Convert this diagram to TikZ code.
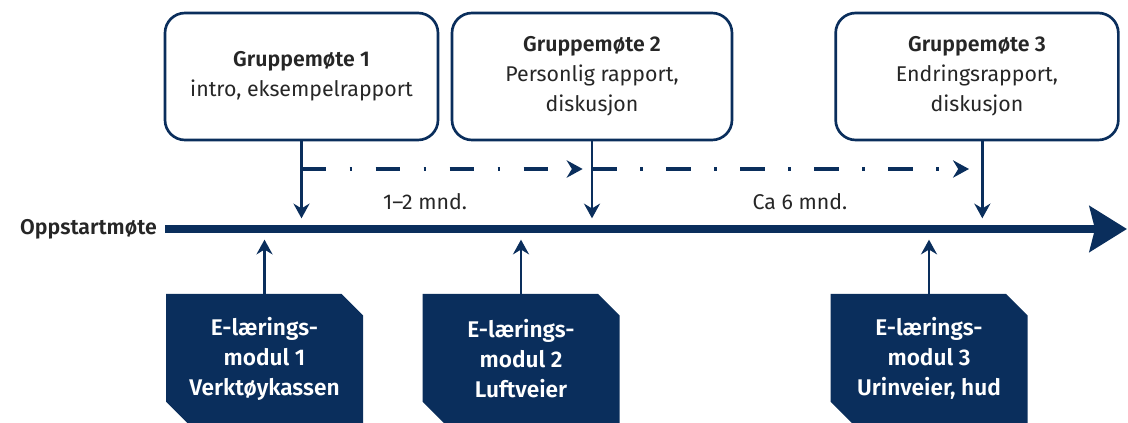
\documentclass[tikz,border=0pt]{standalone}
\usepackage{fontspec}
\setmainfont{Fira Sans}[BoldFont={Fira Sans SemiBold}]
\usetikzlibrary{arrows.meta,shapes.misc}
\definecolor{navy}{RGB}{10,46,92}
\tikzset{
  meeting/.style={draw=navy, line width=2pt, rounded corners=15pt, fill=white,
    minimum height=95.25pt, align=center, text=black!85,
    font=\fontsize{16}{22.5}\selectfont},
  module/.style={chamfered rectangle, chamfered rectangle corners={north east,south west},
    chamfered rectangle xsep=8pt, chamfered rectangle ysep=8pt, fill=navy, text=white,
    minimum width=147.75pt, minimum height=96.75pt, inner sep=0pt, align=center,
    font=\bfseries\fontsize{17}{22.5}\selectfont},
  pointer/.style={navy, line width=2pt, -{Stealth[length=11pt,width=12pt]}, shorten >=8pt},
  period/.style={navy, line width=3pt, dash pattern=on 18.5pt off 17.5pt on 2pt off 17.5pt,
    -{Stealth[length=12pt,width=13pt]}},
  timeline/.style={navy, line width=6pt, -{Stealth[length=28pt,width=34pt,inset=4pt]}},
  plain text/.style={text=black!85, font=\fontsize{16}{19}\selectfont}
}

\begin{document}
\begin{tikzpicture}[x=0.75pt,y=-0.75pt]
			%%%%% START %%%%%
			\useasboundingbox (0,0) rectangle (1128,423);
			
			\coordinate (tl) at (165,229);
			\coordinate (tlend) at (1127,229);
			\coordinate (dl) at (0,169);
			
			% gruppemoter
			\node[meeting, minimum width=204.75pt] (gm1) at (301.5,76.5) {\textbf{Gruppemøte 1}\\intro, eksempelrapport};
			\node[meeting, minimum width=210pt] (gm2) at (592,76.5) {\textbf{Gruppemøte 2}\\Personlig rapport,\\diskusjon};
			\node[meeting, minimum width=212pt] (gm3) at (977,76.5) {\textbf{Gruppemøte 3}\\Endringsrapport,\\diskusjon};
			
			% e-laering
			\node[module] (em1) at (264.5,358.5) {E-lærings-\\modul 1\\Verktøykassen};
			\node[module] (em2) at (521,358.5) {E-lærings-\\modul 2\\Luftveier};
			\node[module] (em3) at (929,358.5) {E-lærings-\\modul 3\\Urinveier, hud};
			
			\node[plain text, font=\bfseries\fontsize{16}{19}\selectfont, anchor=east, inner sep=0pt] (start) at (157,229) {Oppstartmøte};
			\draw[timeline] (tl) -- (tlend);
			
			\draw[pointer] (gm1.south) -- (gm1.south |- tl);
			\draw[pointer] (gm2.south) -- (gm2.south |- tl);
			\draw[pointer] ([xshift=4pt]gm3.south) -- ([xshift=4pt]gm3.south |- tl);
			
			\draw[pointer] (em1.north) -- (em1.north |- tl);
			\draw[pointer] (em2.north) -- (em2.north |- tl);
			\draw[pointer] (em3.north) -- (em3.north |- tl);
			
			\draw[period, shorten >=7pt] (gm1.south |- dl) -- (gm2.south |- dl);
			\draw[period, shorten >=10pt] (gm2.south |- dl) -- ([xshift=4pt]gm3.south |- dl);
			
			\node[plain text] (kort) at (425,202) {1–2 mnd.};
			\node[plain text] (lang) at (800,202) {Ca 6 mnd.};
			
			%%%%% END %%%%%
\end{tikzpicture}
\end{document}
